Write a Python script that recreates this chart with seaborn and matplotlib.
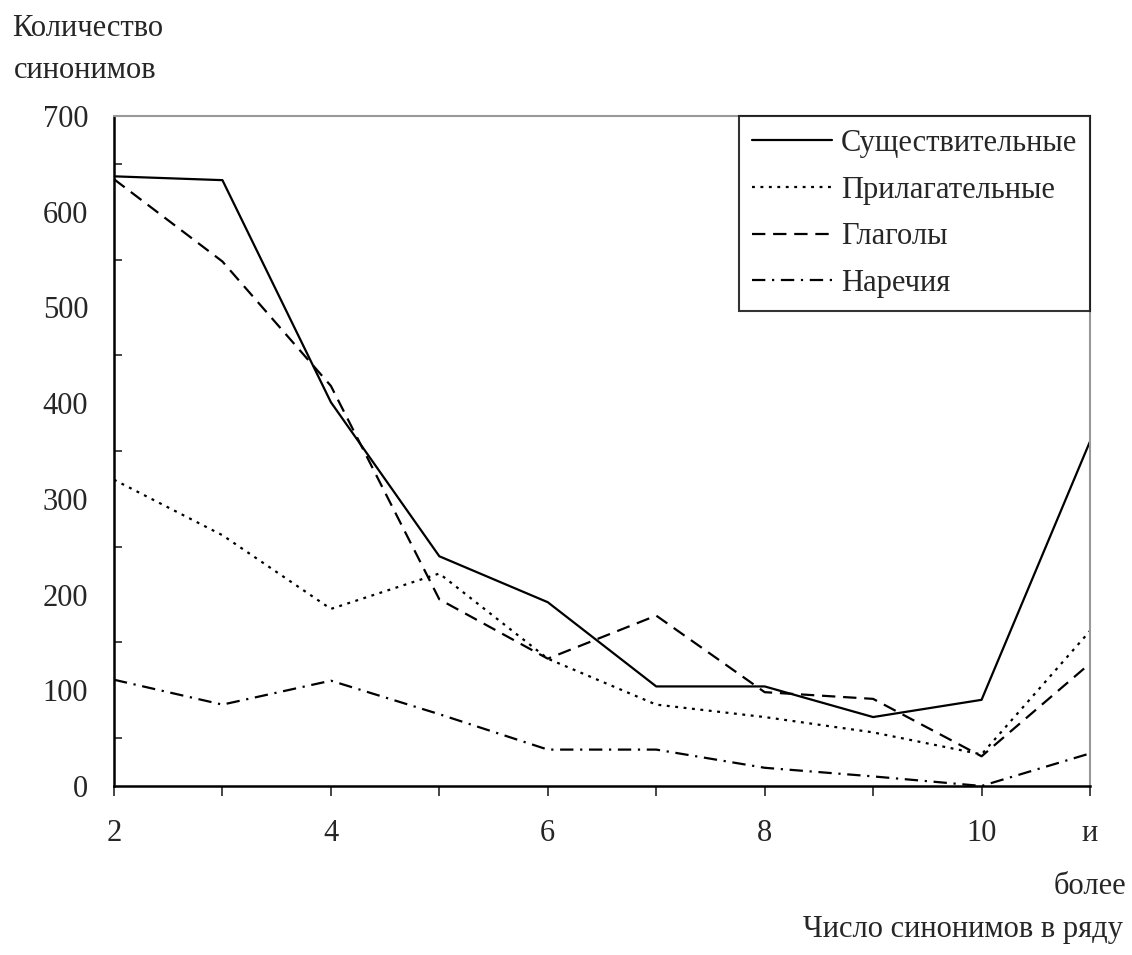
"""
Распределение синонимических рядов по длине
"""
import matplotlib
matplotlib.use('Agg')
import matplotlib.pyplot as plt
import seaborn as sns
import pandas as pd
from matplotlib.ticker import MultipleLocator

sns.set_style("white")
plt.rcParams['font.family'] = ['Liberation Serif', 'DejaVu Serif']

# данные
row_length = [2, 3, 4, 5, 6, 7, 8, 9, 10, 11]
nouns = [637, 633, 401, 240, 192, 104, 104, 72, 90, 360]
adjectives = [320, 262, 185, 222, 133, 85, 72, 56, 33, 162]
verbs = [634, 548, 418, 195, 133, 178, 98, 91, 31, 128]
adverbs = [111, 85, 110, 75, 38, 38, 19, 10, 0, 34]

series_names = ['Существительные', 'Прилагательные', 'Глаголы', 'Наречия']
x_labels = ['2', '', '4', '', '6', '', '8', '', '10', 'и\nболее']

df = pd.DataFrame({
    'x': row_length * 4,
    'y': nouns + adjectives + verbs + adverbs,
    'part': sum([[name] * len(row_length) for name in series_names], []),
})

dashes = {
    'Существительные': '',
    'Прилагательные': (1.3, 2.5),
    'Глаголы': (6, 3.5),
    'Наречия': (6, 3, 1, 3),
}

FS = 22

fig = plt.figure(figsize=(11.32, 9.55), dpi=100)
ax = fig.add_axes([0.1007, 0.1770, 0.8622, 0.7015])

sns.lineplot(data=df, x='x', y='y', style='part', dashes=dashes,
             color='black', linewidth=1.6, ax=ax, legend=True)

ax.set_xlim(2, 11)
ax.set_ylim(0, 700)
ax.set_xticks(row_length)
ax.set_xticklabels(x_labels, fontsize=FS, linespacing=2.1)
ax.yaxis.set_major_locator(MultipleLocator(100))
ax.yaxis.set_minor_locator(MultipleLocator(50))
ax.tick_params(axis='y', which='major', direction='inout', length=13, width=1.4,
               labelsize=FS, pad=12)
ax.tick_params(axis='y', which='minor', direction='in', length=6, width=1.2, left=True)
ax.tick_params(axis='x', which='major', direction='out', length=7, width=1.2,
               labelsize=FS, pad=17, bottom=True)
ax.set_xlabel('')
ax.set_ylabel('')

for side in ['left', 'bottom']:
    ax.spines[side].set_color('black')
    ax.spines[side].set_linewidth(1.8)
for side in ['top', 'right']:
    ax.spines[side].set_color('#999999')
    ax.spines[side].set_linewidth(1.5)

leg = ax.legend(loc='upper right', bbox_to_anchor=(1.0, 1.0), borderaxespad=0,
                fontsize=FS, handlelength=2.6, handletextpad=0.3,
                labelspacing=0.58, frameon=True, fancybox=False,
                borderpad=0.42)
leg.get_frame().set_edgecolor('black')
leg.get_frame().set_linewidth(1.5)

fig.text(0.011, 1 - 36 / 955, 'Количество', fontsize=FS, ha='left', va='baseline')
fig.text(0.012, 1 - 78 / 955, 'синонимов', fontsize=FS, ha='left', va='baseline')
fig.text(0.992, 1 - 937 / 955, 'Число синонимов в ряду', fontsize=FS,
         ha='right', va='baseline')

plt.savefig('out.png', dpi=100)
plt.close()
